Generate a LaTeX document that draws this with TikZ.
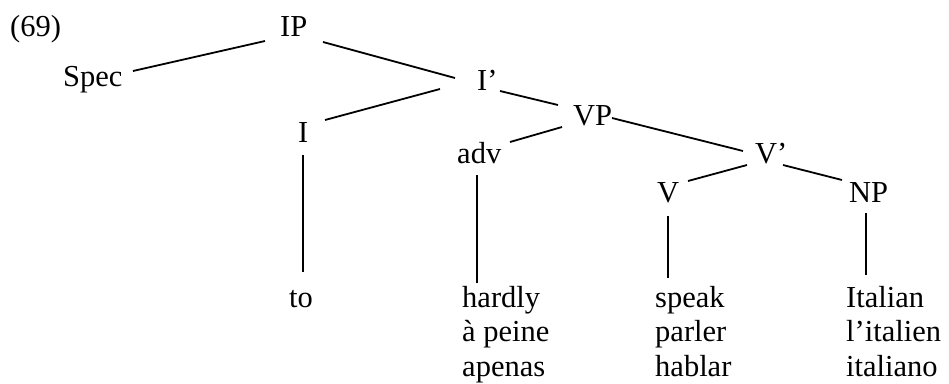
\documentclass[tikz,border=0pt]{standalone}
\usepackage{fontspec}
\setmainfont{Liberation Serif}
\begin{document}
\begin{tikzpicture}[x=1pt,y=-1pt,
  lbl/.style={anchor=base west,inner sep=0pt,font=\fontsize{30.5}{34.5}\selectfont},
  edge/.style={line width=1.8pt}]
\useasboundingbox[fill=white] (0,0) rectangle (949,383);
% labels
\node[lbl] (ex)   at (10,36)  {(69)};
\node[lbl] (IP)   at (280,36) {IP};
\node[lbl] (Spec) at (63,86)  {Spec};
\node[lbl] (Ib)   at (477,90) {I’};
\node[lbl] (I)    at (298,142) {I};
\node[lbl] (VP)   at (573,125) {VP};
\node[lbl] (adv)  at (457,163) {adv};
\node[lbl] (Vb)   at (755,163) {V’};
\node[lbl] (V)    at (657,202) {V};
\node[lbl] (NP)   at (849,202) {NP};
\node[lbl] (to)   at (289,307) {to};
\node[lbl] (hardly) at (462,307) {\begin{tabular}[t]{@{}l@{}}hardly\\à peine\\apenas\end{tabular}};
\node[lbl] (speak)  at (655,307) {\begin{tabular}[t]{@{}l@{}}speak\\parler\\hablar\end{tabular}};
\node[lbl] (Italian) at (846,307) {\begin{tabular}[t]{@{}l@{}}Italian\\l’italien\\italiano\end{tabular}};
% branches
\draw[edge] ([shift={(70,-15)}]Spec.base west) -- ([shift={(-15,5)}]IP.base west);
\draw[edge] ([shift={(43,6)}]IP.base west) -- ([shift={(-22,-12)}]Ib.base west);
\draw[edge] ([shift={(-37,-1)}]Ib.base west) -- ([shift={(27,-22)}]I.base west);
\draw[edge] ([shift={(23,1)}]Ib.base west) -- ([shift={(-15,-20)}]VP.base west);
\draw[edge] ([shift={(-11,2)}]VP.base west) -- ([shift={(53,-21)}]adv.base west);
\draw[edge] ([shift={(39,-7)}]VP.base west) -- ([shift={(-12,-12)}]Vb.base west);
\draw[edge] ([shift={(-8,2)}]Vb.base west) -- ([shift={(31,-21)}]V.base west);
\draw[edge] ([shift={(28,2)}]Vb.base west) -- ([shift={(-7,-22)}]NP.base west);
% vertical lines to words
\draw[edge] ([shift={(5,13)}]I.base west) -- ([shift={(14,-35)}]to.base west);
\draw[edge] ([shift={(20,12)}]adv.base west) -- ([shift={(15,-24)}]hardly.base west);
\draw[edge] ([shift={(11,14)}]V.base west) -- ([shift={(13,-29)}]speak.base west);
\draw[edge] ([shift={(17,11)}]NP.base west) -- ([shift={(20,-32)}]Italian.base west);
\end{tikzpicture}
\end{document}
